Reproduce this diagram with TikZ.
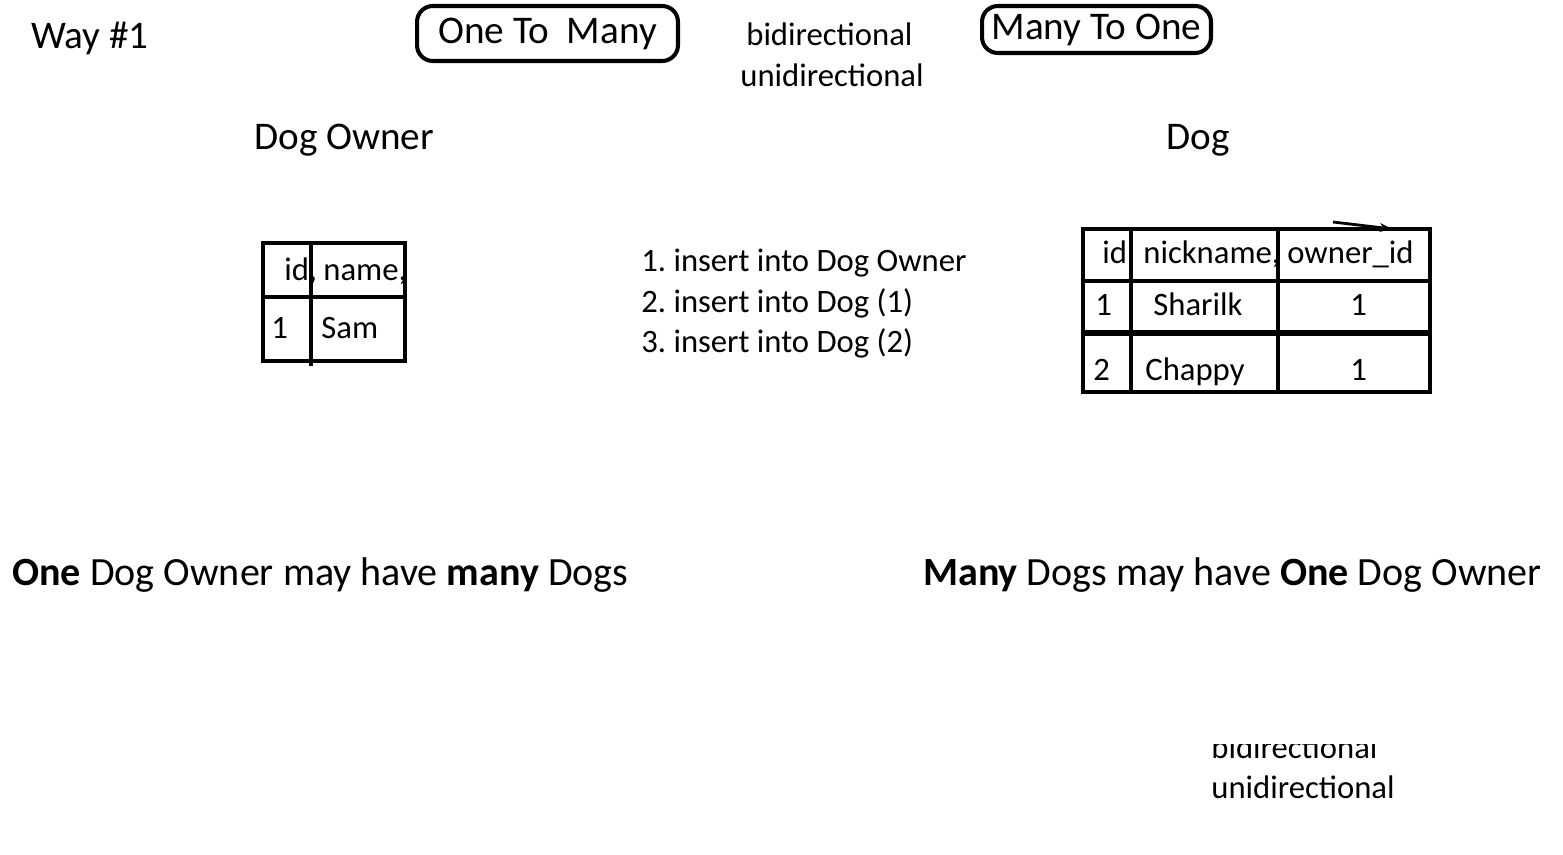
\documentclass[tikz,border=0pt]{standalone}
\usepackage{fontspec}
\setmainfont{Carlito}
\usetikzlibrary{arrows.meta}
\frenchspacing

\begin{document}
\begin{tikzpicture}[x=0.02cm, y=-0.02cm,
  big/.style={font=\fontsize{22.3}{26}\selectfont, inner sep=0pt, anchor=base west},
  small/.style={font=\fontsize{18.6}{22}\selectfont, inner sep=0pt, anchor=base west},
  pill/.style={draw, line width=2.3pt, rounded corners=9pt, inner sep=0pt,
    font=\fontsize{22.3}{26}\selectfont},
  grid/.style={line width=2.3pt}]
\useasboundingbox (0,0) rectangle (1563,855);

% headings
\node[big] (way) at (31,49) {Way \#1};
\node[pill, minimum width=5.22cm, minimum height=1.1cm] (otm) at (547.5,33.5) {One To\ \ Many};
\node[pill, minimum width=4.58cm, minimum height=0.94cm] (mto) at (1096.5,29.5) {Many To One};
\node[small] (bi) at (746,46) {bidirectional};
\node[small] (uni) at (740,87) {unidirectional};
\node[big] (owner) at (254,150) {Dog Owner};
\node[big] (dog) at (1166,150) {Dog};

% owner table
\node[small] (oid) at (284,280) {id,};
\node[small] (oname) at (323,280) {name,};
\node[small] (o1) at (271,338) {1};
\node[small] (sam) at (321,338) {Sam};
\draw[grid] (263,243) rectangle (405,361);
\draw[grid] (311,243) -- (311,366);
\draw[grid] (263,297) -- (405,297);

% steps
\node[small] (s1) at (641,272) {1. insert into Dog Owner};
\node[small] (s2) at (641,312) {2. insert into Dog (1)};
\node[small] (s3) at (641,352) {3. insert into Dog (2)};

% dog table
\node[small] (did) at (1102,263) {id,};
\node[small] (nick) at (1143,263) {nickname,};
\node[small] (fk) at (1287,263) {owner\_id};
\node[small] (d1) at (1095,315) {1};
\node[small] (sharilk) at (1153,315) {Sharilk};
\node[small] (f1) at (1350,315) {1};
\node[small] (d2) at (1093,380) {2};
\node[small] (chappy) at (1145,380) {Chappy};
\node[small] (f2) at (1350,380) {1};
\draw[grid] (1083,229) rectangle (1430,392);
\draw[grid] (1131,229) -- (1131,392);
\draw[grid] (1278,229) -- (1278,392);
\draw[grid] (1083,281) -- (1430,281);
\draw[line width=3.4pt] (1083,333) -- (1430,333);
\coordinate (ta) at (1333,222);
\coordinate (tb) at (1392,229);
\draw[line width=1.6pt, -{Stealth[length=7pt,width=5pt]}] (ta) -- (tb);

% sentences
\node[big, font=\fontsize{22.8}{26}\selectfont] (left) at (12,585) {\textbf{One} Dog Owner may have \textbf{many} Dogs};
\node[big, font=\fontsize{22.8}{26}\selectfont] (right) at (923,585) {\textbf{Many} Dogs may have \textbf{One} Dog Owner};

% cut-off note
\begin{scope}
\clip (1150,744) rectangle (1500,775);
\node[small] (bi2) at (1211,758) {bidirectional};
\end{scope}
\node[small] (uni2) at (1211,798) {unidirectional};
\end{tikzpicture}
\end{document}
